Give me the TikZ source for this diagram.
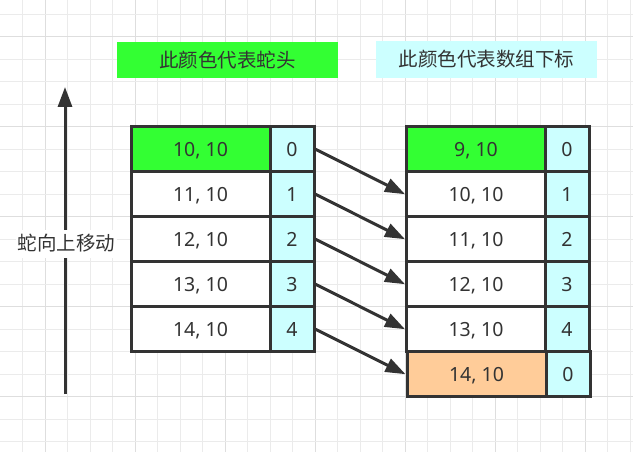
\documentclass[tikz,border=0pt]{standalone}
\usepackage{fontspec}
\setmainfont{Noto Sans CJK SC}
\newfontfamily\cellfont{Noto Sans}
\usetikzlibrary{arrows.meta}
\definecolor{snakegreen}{HTML}{33FF33}
\definecolor{idxcyan}{HTML}{CCFFFF}
\definecolor{tailorange}{HTML}{FFCC99}
\definecolor{ink}{HTML}{333333}
\definecolor{gridminor}{HTML}{EBEBEB}
\definecolor{gridmajor}{HTML}{DEDEDE}
\begin{document}
\begin{tikzpicture}[x=1pt,y=-1pt,
  txt/.style={text=ink, font=\fontsize{19.5}{22}\selectfont},
  cell/.style={text=ink, font=\cellfont\fontsize{19.5}{22}\selectfont, draw=ink, line width=3pt,
    minimum height=45pt, inner sep=0pt, text height=14pt, text depth=0pt, anchor=center},
  namecell/.style={cell, minimum width=139pt, fill=white},
  idxcell/.style={cell, minimum width=44pt, fill=idxcyan},
  legendbox/.style={txt, inner sep=0pt, minimum height=36.5pt, minimum width=221pt},
  flow/.style={draw=ink, line width=3pt, -{Triangle[length=20pt,width=14pt]}}
]
\useasboundingbox (0,0) rectangle (633,452);
\fill[white] (0,0) rectangle (633,452);
% grid
\foreach \i in {1,...,28}{
  \pgfmathtruncatemacro{\m}{mod(\i,4)}
  \ifnum\m=2 \draw[gridmajor, line width=1pt] (\i*22.5,0) -- (\i*22.5,452);
  \else \draw[gridminor, line width=1pt] (\i*22.5,0) -- (\i*22.5,452); \fi
}
\foreach \j in {0,...,19}{
  \pgfmathtruncatemacro{\m}{mod(\j,4)}
  \ifnum\m=1 \draw[gridmajor, line width=1pt] (0,14.2+\j*22.5) -- (633,14.2+\j*22.5);
  \else \draw[gridminor, line width=1pt] (0,14.2+\j*22.5) -- (633,14.2+\j*22.5); \fi
}

% legend
\node[legendbox, fill=snakegreen] (lgHead) at (227.5,60) {此颜色代表蛇头};
\node[legendbox, fill=idxcyan] (lgIdx) at (486.5,59.5) {此颜色代表数组下标};

% movement arrow
\coordinate (mvS) at (65,394);
\coordinate (mvE) at (65,87);
\draw[flow] (mvS) -- (mvE);
\node[txt, fill=white, inner sep=2pt, minimum height=28pt] (mvL) at (66.7,243.5) {蛇向上移动};

% left table
\node[namecell, fill=snakegreen] (l0n) at (200.5,149.2) {10, 10};
\node[idxcell] (l0i) at (292,149.2) {0};
\node[namecell] (l1n) at (200.5,194.2) {11, 10};
\node[idxcell] (l1i) at (292,194.2) {1};
\node[namecell] (l2n) at (200.5,239.2) {12, 10};
\node[idxcell] (l2i) at (292,239.2) {2};
\node[namecell] (l3n) at (200.5,284.2) {13, 10};
\node[idxcell] (l3i) at (292,284.2) {3};
\node[namecell] (l4n) at (200.5,329.2) {14, 10};
\node[idxcell] (l4i) at (292,329.2) {4};

% right table
\node[namecell, fill=snakegreen] (r0n) at (476,149.2) {9, 10};
\node[idxcell] (r0i) at (567,149.2) {0};
\node[namecell] (r1n) at (476,194.2) {10, 10};
\node[idxcell] (r1i) at (567,194.2) {1};
\node[namecell] (r2n) at (476,239.2) {11, 10};
\node[idxcell] (r2i) at (567,239.2) {2};
\node[namecell] (r3n) at (476,284.2) {12, 10};
\node[idxcell] (r3i) at (567,284.2) {3};
\node[namecell] (r4n) at (476,329.2) {13, 10};
\node[idxcell] (r4i) at (567,329.2) {4};
\node[namecell, fill=tailorange] (r5n) at (476.5,374.2) {14, 10};
\node[idxcell] (r5i) at (568,374.2) {0};

% shift arrows
\draw[flow] (l0i.east) -- (r1n.west);
\draw[flow] (l1i.east) -- (r2n.west);
\draw[flow] (l2i.east) -- (r3n.west);
\draw[flow] (l3i.east) -- (r4n.west);
\draw[flow] (l4i.east) -- (r5n.west);
\end{tikzpicture}
\end{document}
